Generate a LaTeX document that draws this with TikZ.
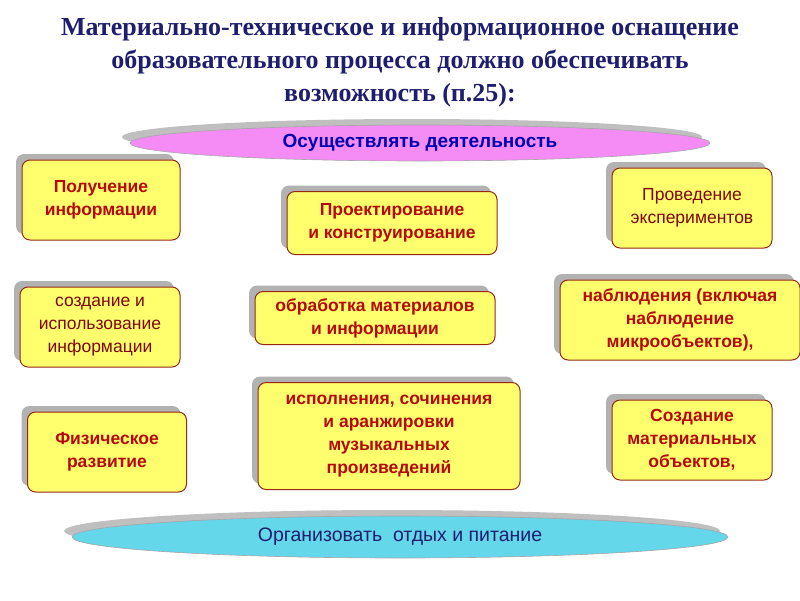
\documentclass[tikz,border=0pt]{standalone}
\usepackage{fontspec}
\setmainfont{Liberation Serif}
\setsansfont{Liberation Sans}
\usetikzlibrary{shadows}
\definecolor{boxfill}{RGB}{255,255,110}
\definecolor{boxline}{RGB}{150,40,20}
\definecolor{boxtext}{RGB}{180,10,10}
\definecolor{titletext}{RGB}{30,30,110}
\definecolor{pinkfill}{RGB}{245,140,245}
\definecolor{cyanfill}{RGB}{100,215,235}
\tikzset{
  itembox/.style={draw=boxline, line width=1pt, fill=boxfill, rounded corners=8pt,
    align=center, font=\sffamily\bfseries\fontsize{17.5}{23}\selectfont, text=boxtext,
    drop shadow={shadow xshift=-6pt, shadow yshift=6pt, fill=gray!60, opacity=1}},
  plainbox/.style={itembox, font=\sffamily\fontsize{17.5}{23}\selectfont, text=boxtext!70!black},
  bandshape/.style={ellipse, draw=gray!70, line width=0.6pt, align=center,
    drop shadow={shadow xshift=-8pt, shadow yshift=6pt, fill=gray!50, opacity=1}},
}
\usetikzlibrary{shapes.geometric}
\begin{document}
\begin{tikzpicture}[x=1pt,y=-1pt,inner sep=0pt,outer sep=0pt]
  \useasboundingbox (0,0) rectangle (800,600);
  % title
  \node[align=center, text=titletext, font=\bfseries\fontsize{26}{33}\selectfont] (title) at (400,62)
    {Материально-техническое и информационное оснащение\\
     образовательного процесса должно обеспечивать\\
     возможность (п.25):};
  % bands
  \node[bandshape, fill=pinkfill, minimum width=580pt, minimum height=36pt,
    text=blue!70!black, font=\sffamily\bfseries\fontsize{19}{22}\selectfont] (act) at (420,143)
    {Осуществлять деятельность};
  \node[bandshape, fill=cyanfill, minimum width=656pt, minimum height=42pt,
    text=titletext, font=\sffamily\fontsize{19.5}{22}\selectfont] (rest) at (400,537)
    {Организовать\ \ отдых и питание};
  % boxes
  \node[itembox, minimum width=158pt, minimum height=80pt] (info) at (101,200)
    {Получение\\информации};
  \node[itembox, minimum width=210pt, minimum height=63pt] (design) at (392,223)
    {Проектирование\\и конструирование};
  \node[plainbox, minimum width=160pt, minimum height=80pt] (exper) at (692,208)
    {Проведение\\экспериментов};
  \node[plainbox, minimum width=160pt, minimum height=80pt] (create) at (100,327)
    {создание и\\использование\\информации};
  \node[itembox, minimum width=240pt, minimum height=53pt] (proc) at (375,318)
    {обработка материалов\\и информации};
  \node[itembox, minimum width=240pt, minimum height=80pt] (observe) at (680,320)
    {наблюдения (включая\\наблюдение\\микрообъектов),};
  \node[itembox, minimum width=262pt, minimum height=107pt] (music) at (389,436)
    {исполнения, сочинения\\и аранжировки\\музыкальных\\произведений};
  \node[itembox, minimum width=159pt, minimum height=80pt] (sport) at (107,452)
    {Физическое\\развитие};
  \node[itembox, minimum width=160pt, minimum height=80pt] (objects) at (692,440)
    {Создание\\материальных\\объектов,};
\end{tikzpicture}
\end{document}
